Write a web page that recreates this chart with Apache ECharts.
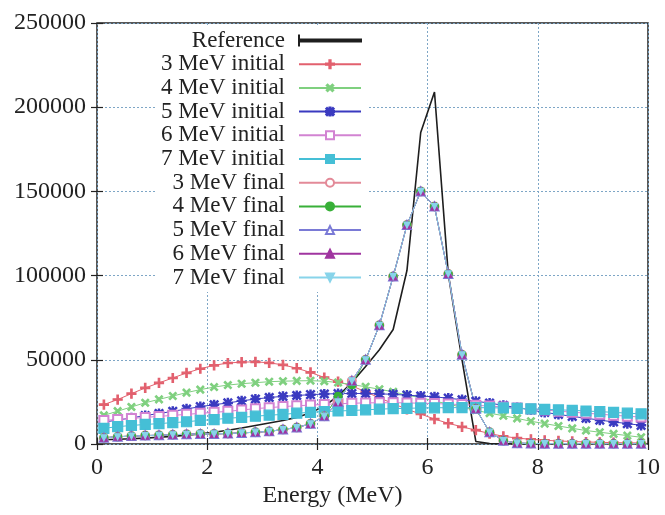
<!DOCTYPE html>
<html><head><meta charset="utf-8">
<script src="https://cdn.jsdelivr.net/npm/echarts@6/dist/echarts.min.js"></script>
<style>html,body{margin:0;padding:0;background:#fff}#c{width:665px;height:515px}</style>
</head><body><div id="c"></div>
<script>
// ---- data ----
const energy = [0.125,0.375,0.625,0.875,1.125,1.375,1.625,1.875,2.125,2.375,
  2.625,2.875,3.125,3.375,3.625,3.875,4.125,4.375,4.625,4.875,
  5.125,5.375,5.625,5.875,6.125,6.375,6.625,6.875,7.125,7.375,
  7.625,7.875,8.125,8.375,8.625,8.875,9.125,9.375,9.625,9.875];
const xTicks = [0, 2, 4, 6, 8, 10];
const yTicks = [0, 50000, 100000, 150000, 200000, 250000];
const seriesNames = ['Reference','3 MeV initial','4 MeV initial','5 MeV initial','6 MeV initial','7 MeV initial',
  '3 MeV final','4 MeV final','5 MeV final','6 MeV final','7 MeV final'];
const reference = [2500,2800,3100,3500,4000,4500,5200,6000,7000,8200,
  9500,11000,12500,14000,15800,18500,22500,28500,36500,46000,
  56000,68000,103000,185000,209000,101000,50000,1500,300,0,
  0,0,0,0,0,0,0,0,0,0];
const init3 = [23400,26400,29900,33300,36300,39200,42200,44700,46700,48100,
  48600,48800,48200,47000,45000,42500,39500,37000,34500,31000,
  27400,24000,20600,17800,14800,12300,10200,8200,6200,4600,
  3500,2800,2200,1800,1500,1200,1000,800,700,600];
const init4 = [17000,19500,22000,24500,26500,28500,30500,32300,33800,35000,
  35800,36400,37000,37300,37500,37600,37300,36500,35300,34000,
  32500,31000,29000,27500,25500,23700,21800,20000,18300,16800,
  15200,13500,12100,10700,9300,8000,7000,6000,5000,4000];
const init5 = [13000,14200,15500,16900,18100,19400,20800,22200,23300,24400,
  25600,26700,27600,28300,28800,29300,29700,29900,30000,30000,
  29800,29500,29000,28500,28000,27200,26300,25400,24300,22900,
  21600,20200,18800,17600,16400,15300,14200,13100,12100,11100];
const init6 = [14000,14600,15200,15800,16400,17000,17600,18200,18800,19400,
  20200,21000,21600,22200,22700,23100,23500,23900,24200,24400,
  24500,24500,24400,24200,24000,23700,23400,23000,22500,22000,
  21400,20800,20200,19500,18900,18300,17700,17100,16500,16000];
const init7 = [9300,10300,11000,11600,12100,12700,13200,14000,14500,15300,
  15800,16500,17100,17600,18300,18800,19300,19600,19900,20300,
  20700,21000,21200,21400,21500,21600,21600,21600,21500,21400,
  21200,20900,20600,20300,20000,19600,19200,18800,18300,17900];
const final3 = [3700,4300,4700,5000,5200,5500,5800,6000,6000,6200,
  6600,7000,7500,8600,9800,12000,16500,25000,37500,50000,
  70500,99500,130000,150000,141000,101000,53000,21000,7000,2000,
  500,300,200,200,200,200,200,200,200,200];
const final4 = [3700,4300,4700,5000,5200,5500,5800,6000,6000,6200,
  6600,7000,7500,8600,9800,12000,16500,28300,35200,50000,
  70500,99500,130000,150000,141000,101000,53000,21000,7000,2000,
  500,300,200,200,200,200,200,200,200,200];
const final5 = [3700,4300,4700,5000,5200,5500,5800,6000,6000,6200,
  6600,7000,7500,8600,9800,12000,16500,25000,37500,50000,
  70500,99500,130000,150000,141000,101000,53000,21000,7000,2000,
  500,300,200,200,200,200,200,200,200,200];
const final6 = [3700,4300,4700,5000,5200,5500,5800,6000,6000,6200,
  6600,7000,7500,8600,9800,12000,16500,25000,37500,50000,
  70500,99500,130000,150000,141000,101000,53000,21000,7000,2000,
  500,300,200,200,200,200,200,200,200,200];
const final7 = [3700,4300,4700,5000,5200,5500,5800,6000,6000,6200,
  6600,7000,7500,8600,9800,12000,16500,25000,37500,50000,
  70500,99500,130000,150000,141000,101000,53000,21000,7000,2000,
  500,300,200,200,200,200,200,200,200,200];

// ---- chart ----
const FONT = '"Liberation Serif", "DejaVu Serif", serif';
const PLUS = 'path://M4.2,0H5.8V4.2H10V5.8H5.8V10H4.2V5.8H0V4.2H4.2Z';
const STAR = 'path://M4.3,0H5.7V4.3H10V5.7H5.7V10H4.3V5.7H0V4.3H4.3Z M1.3,0.3L9.7,8.7L8.7,9.7L0.3,1.3Z M8.7,0.3L9.7,1.3L1.3,9.7L0.3,8.7Z';
const REF_ICON = 'path://M0,0H0.01V10H0Z M0,4.1H62V5.9H0Z';

function pts(vals) { return energy.map((x, i) => [x, vals[i]]); }
function mk(name, vals, color, symbol, size, rot, lw) {
  return {
    name: name, type: 'line', data: pts(vals),
    symbol: symbol, symbolSize: size, symbolRotate: rot || 0,
    showSymbol: symbol !== 'none',
    lineStyle: { color: color, width: lw || 1 },
    itemStyle: { color: color, borderColor: color, borderWidth: 1.2 },
    emphasis: { disabled: true }, silent: true,
    xAxisIndex: 0, yAxisIndex: 0
  };
}

const series = [
  mk(seriesNames[0], reference, '#1e1e1e', 'none', 0, 0, 1.6),
  mk(seriesNames[1], init3, '#e2606e', PLUS, 9),
  mk(seriesNames[2], init4, '#7fd07f', PLUS, 9, 45),
  mk(seriesNames[3], init5, '#3a3ac0', STAR, 9),
  mk(seriesNames[4], init6, '#d283d2', 'emptyRect', 9),
  mk(seriesNames[5], init7, '#45bfd6', 'rect', 10),
  mk(seriesNames[6], final3, '#e38a98', 'emptyCircle', 8),
  mk(seriesNames[7], final4, '#38b038', 'circle', 8),
  mk(seriesNames[8], final5, '#7a7ad6', 'emptyTriangle', 8),
  mk(seriesNames[9], final6, '#a035a0', 'triangle', 7),
  mk(seriesNames[10], final7, '#88d4ea', 'triangle', 6, 180)
];

const legendData = seriesNames.map((n, i) => i === 0 ? { name: n, icon: REF_ICON, itemStyle: { color: '#2a2a2a' } } : n);

const chart = echarts.init(document.getElementById('c'), null, { renderer: 'canvas' });
chart.setOption({
  animation: false,
  backgroundColor: '#fff',
  grid: { left: 97, right: 17, top: 23, bottom: 71, show: true, borderColor: '#222', borderWidth: 1.5, backgroundColor: 'transparent' },
  xAxis: [{
    type: 'value', min: xTicks[0], max: xTicks[xTicks.length - 1], interval: 2, position: 'bottom',
    axisLine: { show: false },
    axisTick: { show: true, inside: true, length: 6, lineStyle: { color: '#222', width: 1.2 } },
    axisLabel: { margin: 12, fontFamily: FONT, fontSize: 24, color: '#222', formatter: v => String(v) },
    splitLine: { show: true, lineStyle: { color: '#7ea6c6', type: [2, 2], width: 1 } }
  }, {
    type: 'value', min: xTicks[0], max: xTicks[xTicks.length - 1], interval: 2, position: 'top',
    axisLine: { show: false },
    axisTick: { show: true, inside: true, length: 6, lineStyle: { color: '#222', width: 1.2 } },
    axisLabel: { show: false }, splitLine: { show: false }
  }],
  yAxis: [{
    type: 'value', min: yTicks[0], max: yTicks[yTicks.length - 1], interval: 50000, position: 'left',
    axisLine: { show: false },
    axisTick: { show: true, inside: true, length: 6, lineStyle: { color: '#222', width: 1.2 } },
    axisLabel: { margin: 11, fontFamily: FONT, fontSize: 24, color: '#222', formatter: v => String(v) },
    splitLine: { show: true, lineStyle: { color: '#7ea6c6', type: [2, 2], width: 1 } }
  }, {
    type: 'value', min: yTicks[0], max: yTicks[yTicks.length - 1], interval: 50000, position: 'right',
    axisLine: { show: false },
    axisTick: { show: true, inside: true, length: 6, lineStyle: { color: '#222', width: 1.2 } },
    axisLabel: { show: false }, splitLine: { show: false }
  }],
  legend: {
    orient: 'vertical', right: 298, top: 26, align: 'right',
    backgroundColor: '#fff', padding: [3, 5, 3, 5],
    itemWidth: 62, itemHeight: 10, itemGap: 0.7,
    selectedMode: false,
    textStyle: { fontFamily: FONT, fontSize: 23, color: '#222', lineHeight: 22, padding: [0, 9, 0, 0] },
    data: legendData
  },
  graphic: [{
    type: 'text', left: 'center', top: 484,
    style: { text: 'Energy (MeV)', font: '24px "Liberation Serif", serif', fill: '#222' }
  }],
  series: series
});
</script>
</body></html>
